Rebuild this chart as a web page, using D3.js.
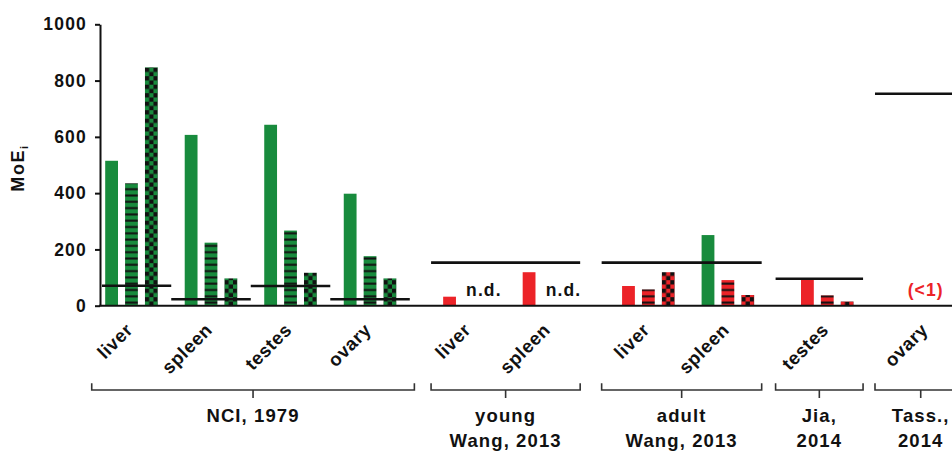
<!DOCTYPE html>
<html><head><meta charset="utf-8">
<script src="https://cdn.jsdelivr.net/npm/d3@7"></script>
<style>
body{margin:0;background:#fff}
svg{display:block}
text{font-family:"Liberation Sans",Arial,Helvetica,sans-serif;font-weight:bold;fill:#111}
</style>
</head><body><svg id="chart" width="952" height="451"></svg>
<script>
// ---------------- data ----------------
const groupLabels = [["NCI, 1979"], ["young", "Wang, 2013"], ["adult", "Wang, 2013"], ["Jia,", "2014"], ["Tass.,", "2014"]];
const tissues = ["liver", "spleen", "testes", "ovary", "liver", "spleen", "liver", "spleen", "testes", "ovary"];
const tissueGroup = [0, 0, 0, 0, 1, 1, 2, 2, 3, 4];
const solidValues     = [515, 607, 643, 398, 32, 119, 70, 251, 92, null];
const stripedValues   = [435, 224, 267, 176, null, null, 58, 91, 37, null];
const checkeredValues = [847, 97, 117, 97, null, null, 119, 38, 15, null];
const solidKinds      = ["A", "A", "A", "A", "B", "B", "B", "A", "B", null];
const stripedKinds    = ["A", "A", "A", "A", null, null, "B", "B", "B", null];
const checkeredKinds  = ["A", "A", "A", "A", null, null, "B", "B", "B", null];
const tissueThresholds = [71, 23, 70, 23, null, null, null, null, null, null];
const groupThresholds = [null, 153, 153, 96, 753];
const notes = [null, null, null, null, "n.d.", "n.d.", null, null, null, "(<1)"];
const noteKinds = [null, null, null, null, null, null, null, null, null, "B"];
const yTicks = [0, 200, 400, 600, 800, 1000];
const yTitle = "MoE";
const yTitleSub = "i";

// ---------------- drawing ----------------
const kindColor = {A: "#188b3d", B: "#ec2328"};
const svg = d3.select("#chart");
const y = d3.scaleLinear().domain([0, 1000]).range([305.7, 24.3]);
const slotOf = i => 4 * i + tissueGroup[i];
const x = d3.scaleLinear().domain([0, 42]).range([111.6, 111.6 + 42 * 19.88]);
const bw = 12.8;
const axisX = 100;
// bracket overhang (in bar slots) before first / after last bar of each group
const bracketPadStart = [1.0, 0.93, 1.35, 1.6, 1.6];
const bracketPadEnd = [1.23, 0.57, 0.7, 0.8, 1.0];
const defs = svg.append("defs");

const series = [
  {type: "solid", values: solidValues, kinds: solidKinds},
  {type: "striped", values: stripedValues, kinds: stripedKinds},
  {type: "checkered", values: checkeredValues, kinds: checkeredKinds}
];
const bars = [];
series.forEach((s, si) => s.values.forEach((v, i) => {
  if (v != null) bars.push({i, si, v, kind: s.kinds[i], type: s.type});
}));

bars.forEach((b, k) => {
  b.x0 = x(slotOf(b.i) + b.si) - bw / 2;
  const col = kindColor[b.kind];
  b.fill = col;
  if (b.type !== "solid") {
    const id = "pat" + k;
    const p = defs.append("pattern").attr("id", id)
      .attr("patternUnits", "userSpaceOnUse")
      .attr("x", b.x0).attr("y", y(0));
    if (b.type === "striped") {
      const h = 6.3;
      p.attr("width", bw).attr("height", h);
      p.append("rect").attr("width", bw).attr("height", h).attr("fill", col);
      p.append("rect").attr("y", 2.2).attr("width", bw).attr("height", 2).attr("fill", "#111");
    } else {
      const c = 4.25;
      p.attr("width", 2 * c).attr("height", 2 * c);
      p.append("rect").attr("width", 2 * c).attr("height", 2 * c).attr("fill", col);
      p.append("rect").attr("width", c).attr("height", c).attr("fill", "#111");
      p.append("rect").attr("x", c).attr("y", c).attr("width", c).attr("height", c).attr("fill", "#111");
    }
    b.fill = `url(#${id})`;
  }
});

svg.append("g").selectAll("rect").data(bars).join("rect")
  .attr("x", d => d.x0).attr("y", d => y(d.v))
  .attr("width", bw).attr("height", d => y(0) - y(d.v))
  .attr("fill", d => d.fill);

// group extents
function groupExtent(g) {
  const idx = tissues.map((_, i) => i).filter(i => tissueGroup[i] === g);
  const first = slotOf(idx[0]), last = slotOf(idx[idx.length - 1]) + 2;
  return [x(first - bracketPadStart[g]), x(last + bracketPadEnd[g])];
}

// threshold lines
const thr = svg.append("g").attr("stroke", "#111").attr("stroke-width", 2.6);
tissueThresholds.forEach((t, i) => {
  if (t == null) return;
  const c = slotOf(i) + 1;
  thr.append("line").attr("x1", Math.max(axisX + 2, x(c - 2))).attr("x2", x(c + 2))
    .attr("y1", y(t)).attr("y2", y(t));
});
groupThresholds.forEach((t, g) => {
  if (t == null) return;
  const [a, b] = groupExtent(g);
  thr.append("line").attr("x1", a).attr("x2", b).attr("y1", y(t)).attr("y2", y(t));
});

// notes
notes.forEach((n, i) => {
  if (!n) return;
  const missing = series.map((s, si) => s.values[i] == null ? si : null).filter(v => v != null);
  const cs = slotOf(i) + d3.mean(missing);
  svg.append("text").attr("x", x(cs) + (n === "n.d." ? 4.5 : -1)).attr("y", 296)
    .attr("text-anchor", "middle").attr("font-size", 17.5).attr("letter-spacing", 1.1)
    .style("fill", noteKinds[i] ? kindColor[noteKinds[i]] : "#111")
    .text(n);
});

// y axis
const yAxis = svg.append("g").attr("transform", `translate(${axisX},0)`)
  .call(d3.axisLeft(y).tickValues(yTicks).tickFormat(d3.format("d"))
    .tickSize(5).tickSizeOuter(0).tickPadding(8));
yAxis.select(".domain").attr("stroke", "#111").attr("stroke-width", 2);
yAxis.selectAll(".tick line").attr("stroke", "#111").attr("stroke-width", 2);
yAxis.selectAll(".tick text").attr("font-size", 17.5).attr("letter-spacing", 1.2)
  .attr("font-family", null).style("fill", "#111");

// x axis line
svg.append("line").attr("x1", axisX - 1).attr("x2", 952).attr("y1", y(0)).attr("y2", y(0))
  .attr("stroke", "#111").attr("stroke-width", 2);

// y title
const yt = svg.append("text").attr("transform", "translate(24,168) rotate(-90)")
  .attr("text-anchor", "middle").attr("font-size", 18).attr("letter-spacing", 1.6);
yt.append("tspan").text(yTitle);
yt.append("tspan").attr("font-size", 11).attr("dy", 4).text(yTitleSub);

// category labels
tissues.forEach((t, i) => {
  const c = x(slotOf(i) + 1);
  svg.append("text").attr("transform", `translate(${c + 2.5},331) rotate(-45)`)
    .attr("text-anchor", "end").attr("font-size", 18.5).attr("letter-spacing", 0.6)
    .text(t);
});

// brackets and group labels
groupLabels.forEach((lines, g) => {
  const [a, b] = groupExtent(g);
  const m = (a + b) / 2;
  svg.append("path")
    .attr("d", `M${a},383.3V390H${b}V383.3M${m},390V398`)
    .attr("fill", "none").attr("stroke", "#333").attr("stroke-width", 1.6);
  const tx = svg.append("text").attr("text-anchor", "middle").attr("font-size", 18.5).attr("letter-spacing", 1.1);
  lines.forEach((l, k) => tx.append("tspan").attr("x", m).attr("y", 422 + k * 25).text(l));
});
</script>
</body></html>
